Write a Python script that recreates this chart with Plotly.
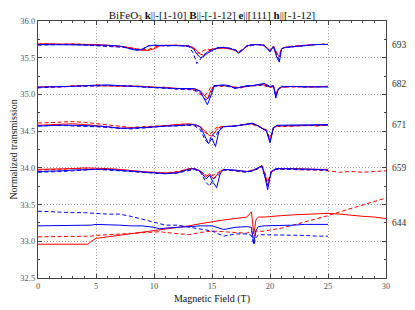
import plotly.graph_objects as go

# ---------------- data ----------------
LABELS = ["693", "682", "671", "659", "644"]
LABEL_Y = [35.68, 35.14, 34.59, 34.00, 33.25]

F693 = [0, 1, 2, 3, 4, 5, 6, 7, 7.5, 8, 8.5, 9, 9.5, 10, 10.5, 11, 12, 13, 13.4, 13.7, 14.0, 14.3, 14.6, 15, 15.5, 16, 16.5, 17, 17.3, 17.6, 18, 18.5, 19, 19.5, 20, 20.3, 20.6, 20.8, 21, 21.3, 22, 23, 24, 25]
RS693 = [35.69, 35.69, 35.69, 35.68, 35.68, 35.68, 35.67, 35.66, 35.65, 35.63, 35.61, 35.60, 35.60, 35.62, 35.66, 35.67, 35.67, 35.66, 35.64, 35.60, 35.55, 35.53, 35.58, 35.62, 35.63, 35.63, 35.62, 35.60, 35.57, 35.60, 35.66, 35.68, 35.68, 35.67, 35.60, 35.66, 35.55, 35.51, 35.62, 35.64, 35.65, 35.67, 35.68, 35.68]
RD693 = [35.68, 35.69, 35.68, 35.69, 35.68, 35.67, 35.67, 35.66, 35.65, 35.64, 35.62, 35.61, 35.61, 35.64, 35.67, 35.66, 35.67, 35.66, 35.63, 35.56, 35.57, 35.60, 35.62, 35.60, 35.63, 35.64, 35.62, 35.61, 35.58, 35.61, 35.65, 35.67, 35.68, 35.66, 35.59, 35.65, 35.56, 35.54, 35.63, 35.64, 35.66, 35.67, 35.68, 35.69]
BS693 = [35.68, 35.68, 35.68, 35.68, 35.68, 35.67, 35.67, 35.66, 35.64, 35.62, 35.60, 35.61, 35.66, 35.67, 35.67, 35.67, 35.67, 35.66, 35.62, 35.55, 35.50, 35.52, 35.56, 35.60, 35.64, 35.64, 35.63, 35.60, 35.56, 35.60, 35.66, 35.68, 35.68, 35.67, 35.58, 35.65, 35.50, 35.44, 35.62, 35.64, 35.65, 35.67, 35.68, 35.68]
BD693 = [35.67, 35.68, 35.68, 35.68, 35.67, 35.67, 35.66, 35.65, 35.64, 35.62, 35.61, 35.62, 35.66, 35.67, 35.66, 35.66, 35.67, 35.65, 35.56, 35.42, 35.48, 35.54, 35.58, 35.61, 35.63, 35.64, 35.63, 35.61, 35.57, 35.61, 35.66, 35.67, 35.68, 35.67, 35.59, 35.65, 35.52, 35.47, 35.62, 35.64, 35.65, 35.67, 35.68, 35.68]

F682 = [0, 1, 2, 3, 4, 5, 6, 7, 8, 9, 10, 11, 12, 13, 13.5, 14, 14.3, 14.6, 14.9, 15.2, 16, 16.5, 17, 17.5, 18, 18.5, 19, 19.5, 20, 20.3, 20.5, 20.7, 21, 22, 23, 24, 25]
RS682 = [35.10, 35.10, 35.11, 35.11, 35.12, 35.12, 35.12, 35.12, 35.11, 35.11, 35.10, 35.09, 35.08, 35.08, 35.07, 35.05, 35.00, 34.94, 35.05, 35.12, 35.12, 35.11, 35.09, 35.09, 35.11, 35.12, 35.13, 35.14, 35.10, 35.12, 34.98, 35.06, 35.10, 35.11, 35.10, 35.11, 35.11]
RD682 = [35.09, 35.11, 35.10, 35.12, 35.11, 35.13, 35.12, 35.11, 35.12, 35.10, 35.09, 35.10, 35.07, 35.08, 35.05, 35.00, 34.98, 35.02, 35.10, 35.12, 35.11, 35.12, 35.08, 35.10, 35.11, 35.12, 35.13, 35.12, 35.09, 35.11, 35.00, 35.08, 35.10, 35.10, 35.11, 35.10, 35.11]
BS682 = [35.10, 35.10, 35.10, 35.11, 35.12, 35.13, 35.13, 35.12, 35.11, 35.10, 35.10, 35.09, 35.08, 35.08, 35.08, 35.04, 34.96, 34.86, 34.98, 35.12, 35.13, 35.12, 35.08, 35.10, 35.12, 35.12, 35.13, 35.15, 35.11, 35.12, 34.95, 35.07, 35.11, 35.11, 35.10, 35.11, 35.10]
BD682 = [35.09, 35.10, 35.10, 35.11, 35.11, 35.12, 35.12, 35.12, 35.11, 35.10, 35.09, 35.09, 35.08, 35.07, 35.06, 35.02, 34.95, 34.92, 35.02, 35.11, 35.12, 35.11, 35.09, 35.10, 35.11, 35.12, 35.12, 35.13, 35.10, 35.11, 34.97, 35.07, 35.10, 35.11, 35.10, 35.11, 35.11]

F671 = [0, 1, 2, 3, 4, 5, 6, 7, 8, 9, 10, 11, 12, 13, 13.5, 14, 14.4, 14.7, 15.0, 15.3, 15.6, 16, 17, 18, 18.5, 19, 19.4, 19.7, 20.0, 20.3, 20.6, 21, 22, 23, 24, 25]
RS671 = [34.58, 34.59, 34.60, 34.60, 34.59, 34.58, 34.56, 34.54, 34.54, 34.55, 34.56, 34.58, 34.59, 34.60, 34.59, 34.56, 34.50, 34.45, 34.43, 34.50, 34.55, 34.56, 34.57, 34.59, 34.60, 34.57, 34.53, 34.50, 34.36, 34.54, 34.57, 34.57, 34.58, 34.57, 34.58, 34.58]
RD671 = [34.61, 34.62, 34.63, 34.63, 34.62, 34.60, 34.58, 34.56, 34.55, 34.56, 34.57, 34.58, 34.58, 34.59, 34.58, 34.55, 34.48, 34.46, 34.48, 34.54, 34.56, 34.56, 34.57, 34.60, 34.59, 34.56, 34.54, 34.52, 34.40, 34.55, 34.57, 34.56, 34.57, 34.58, 34.57, 34.58]
BS671 = [34.57, 34.58, 34.58, 34.58, 34.58, 34.57, 34.56, 34.54, 34.54, 34.55, 34.56, 34.57, 34.58, 34.59, 34.59, 34.56, 34.44, 34.33, 34.40, 34.29, 34.50, 34.56, 34.57, 34.60, 34.61, 34.57, 34.53, 34.50, 34.34, 34.55, 34.58, 34.58, 34.59, 34.58, 34.59, 34.59]
BD671 = [34.57, 34.58, 34.58, 34.57, 34.57, 34.56, 34.55, 34.54, 34.53, 34.54, 34.56, 34.57, 34.57, 34.58, 34.57, 34.52, 34.38, 34.34, 34.45, 34.42, 34.52, 34.56, 34.57, 34.59, 34.60, 34.57, 34.54, 34.51, 34.37, 34.55, 34.57, 34.57, 34.58, 34.58, 34.58, 34.58]

F659 = [0, 1, 2, 3, 4, 5, 6, 7, 8, 9, 10, 11, 12, 13, 13.5, 14, 14.5, 14.8, 15.1, 15.4, 15.7, 16, 17, 18, 18.5, 19, 19.3, 19.6, 19.8, 20.1, 20.5, 21, 22, 23, 24, 25, 26, 27, 28, 29, 30]
RS659 = [33.98, 33.98, 33.99, 33.99, 34.00, 34.00, 33.99, 33.98, 33.96, 33.95, 33.94, 33.93, 33.94, 33.99, 33.99, 33.96, 33.88, 33.92, 33.85, 33.90, 33.95, 33.98, 33.96, 33.95, 33.97, 34.00, 34.03, 33.90, 33.75, 33.94, 33.98, 33.99, 33.99, 33.98, 33.98, 33.98, None, None, None, None, None]
RD659 = [33.97, 33.97, 33.98, 33.99, 33.99, 33.99, 33.98, 33.97, 33.95, 33.94, 33.93, 33.93, 33.95, 33.98, 33.98, 33.95, 33.90, 33.88, 33.90, 33.92, 33.96, 33.97, 33.96, 33.94, 33.96, 33.99, 34.01, 33.92, 33.80, 33.95, 33.98, 33.98, 33.98, 33.97, 33.97, 33.96, 33.94, 33.95, 33.94, 33.95, 33.96]
BS659 = [33.95, 33.95, 33.96, 33.97, 33.98, 33.98, 33.98, 33.97, 33.96, 33.94, 33.93, 33.92, 33.93, 33.98, 33.99, 33.95, 33.85, 33.90, 33.80, 33.73, 33.92, 33.98, 33.97, 33.95, 33.96, 34.00, 34.03, 33.85, 33.70, 33.95, 33.99, 33.99, 33.99, 33.98, 33.98, 33.97, None, None, None, None, None]
BD659 = [33.94, 33.94, 33.95, 33.96, 33.97, 33.98, 33.97, 33.96, 33.95, 33.94, 33.92, 33.92, 33.93, 33.97, 33.98, 33.94, 33.80, 33.75, 33.85, 33.88, 33.93, 33.97, 33.96, 33.94, 33.96, 33.99, 34.02, 33.88, 33.76, 33.94, 33.98, 33.98, 33.98, 33.97, 33.97, 33.97, None, None, None, None, None]

F644 = [0, 1, 2, 3, 4, 4.3, 4.6, 5, 6, 7, 8, 9, 10, 10.5, 11, 12, 13, 14, 15, 16, 17, 18, 18.4, 18.6, 18.8, 19, 19.5, 20, 21, 22, 23, 24, 25, 26, 27, 28, 29, 30]
RS644 = [32.96, 32.96, 32.96, 32.97, 32.97, 32.96, 33.00, 33.04, 33.06, 33.08, 33.10, 33.12, 33.14, 33.15, 33.17, 33.19, 33.21, 33.24, 33.27, 33.29, 33.31, 33.33, 33.40, 33.10, 33.30, 33.33, 33.33, 33.34, 33.35, 33.36, 33.37, 33.37, 33.38, 33.37, 33.35, 33.34, 33.33, 33.31]
RD644 = [33.06, 33.06, 33.06, 33.06, 33.06, 33.06, 33.07, 33.08, 33.09, 33.10, 33.11, 33.12, 33.13, 33.13, 33.12, 33.10, 33.09, 33.12, 33.14, 33.13, 33.12, 33.11, 33.14, 33.05, 33.15, 33.13, 33.14, 33.15, 33.18, 33.22, 33.26, 33.30, 33.35, 33.40, 33.45, 33.50, 33.54, 33.59]
BS644 = [33.21, 33.21, 33.21, 33.21, 33.22, 33.22, 33.22, 33.23, 33.23, 33.22, 33.21, 33.21, 33.19, 33.17, 33.18, 33.19, 33.20, 33.21, 33.21, 33.16, 33.19, 33.20, 33.19, 32.97, 33.15, 33.20, 33.21, 33.21, 33.22, 33.22, 33.23, 33.23, 33.23, None, None, None, None, None]
BD644 = [33.41, 33.40, 33.40, 33.39, 33.39, 33.39, 33.38, 33.38, 33.37, 33.37, 33.34, 33.30, 33.25, 33.23, 33.22, 33.22, 33.19, 33.16, 33.14, 33.07, 33.10, 33.10, 33.08, 32.95, 33.05, 33.09, 33.09, 33.09, 33.08, 33.08, 33.08, 33.07, 33.07, None, None, None, None, None]

GROUPS = [
    (F693, RS693, RD693, BS693, BD693),
    (F682, RS682, RD682, BS682, BD682),
    (F671, RS671, RD671, BS671, BD671),
    (F659, RS659, RD659, BS659, BD659),
    (F644, RS644, RD644, BS644, BD644),
]

# ---------------- figure ----------------
FONT = "Liberation Serif"
DASH = "4px,2.5px"
fig = go.Figure()
for f, rs, rd, bs, bd in GROUPS:
    for vals, col, dash in [(rs, "#ff0000", "solid"), (rd, "#ff0000", DASH),
                            (bs, "#0000ff", "solid"), (bd, "#0000ff", DASH)]:
        fig.add_trace(go.Scatter(x=f, y=vals, mode="lines", connectgaps=False,
                                 line=dict(color=col, width=1, dash=dash),
                                 showlegend=False, hoverinfo="skip"))

for lab, ly in zip(LABELS, LABEL_Y):
    fig.add_annotation(x=1.012, xref="paper", y=ly, yref="y", text=lab,
                       showarrow=False, xanchor="left", yanchor="middle",
                       font=dict(family=FONT, size=9.5, color="#333"))

axis_common = dict(showline=True, linecolor="#444", linewidth=1.3, mirror="ticks",
                   ticks="inside", ticklen=4, tickcolor="#444", automargin=False,
                   showgrid=True, gridcolor="#a0a0a0", griddash="1px,2px", gridwidth=1,
                   zeroline=False, tickfont=dict(family=FONT, size=8.5, color="#555"))

fig.update_xaxes(range=[0, 30], dtick=5, tick0=0,
                 minor=dict(dtick=1, ticks="inside", ticklen=2, tickcolor="#444", showgrid=False),
                 title=dict(text="Magnetic Field (T)", font=dict(family=FONT, size=10, color="#111"), standoff=4),
                 **axis_common)
fig.update_yaxes(range=[32.5, 36.0], dtick=0.5, tick0=32.5, tickformat=".1f",
                 minor=dict(dtick=0.25, ticks="inside", ticklen=2, tickcolor="#444", showgrid=False),
                 title=dict(text="Normalized transmission", font=dict(family=FONT, size=10, color="#111"), standoff=6),
                 **axis_common)

# page body has an 8px margin: the figure is shifted by 8px right and down
fig.update_layout(
    width=407, height=302,
    margin=dict(l=30, r=29, t=13, b=32),
    paper_bgcolor="white", plot_bgcolor="white",
    title=dict(text="BiFeO<sub>3</sub> <b>k</b>||-[1-10] <b>B</b>||-[-1-12] <b>e</b>||[111] <b>h</b>||[-1-12]",
               x=0.5, xref="paper", xanchor="center", y=1, yref="paper", yanchor="bottom", pad=dict(b=2),
               font=dict(family=FONT, size=11, color="#111")),
)

fig.write_html("out.html")
